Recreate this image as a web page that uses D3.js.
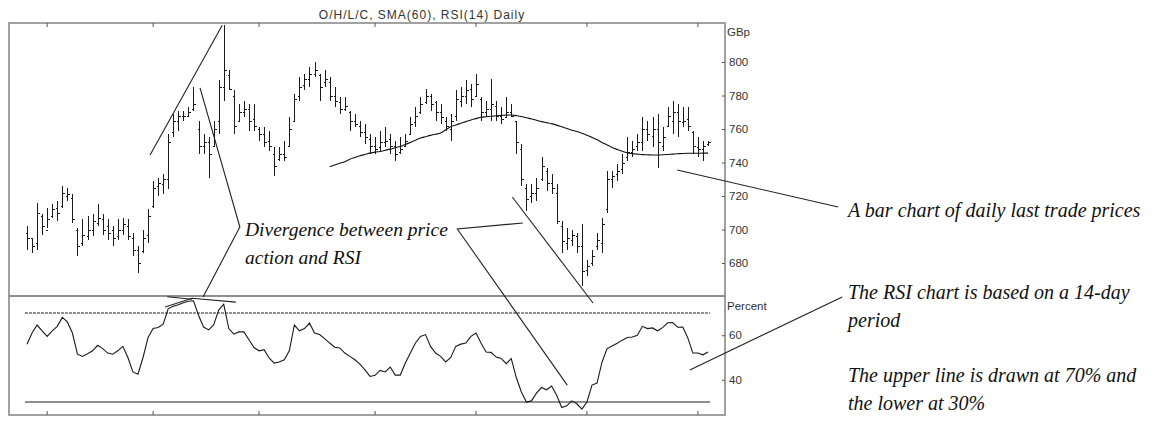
<!DOCTYPE html>
<html>
<head>
<meta charset="utf-8">
<title>O/H/L/C, SMA(60), RSI(14) Daily</title>
<script src="https://d3js.org/d3.v7.min.js"></script>
<style>
  body { margin: 0; background: #fff; }
  .frame { fill: none; stroke: #8a8a8a; stroke-width: 1.6; }
  .bar { stroke: #1a1a1a; stroke-width: 1; shape-rendering: crispEdges; }
  .ax text { font-family: "Liberation Sans", Arial, sans-serif; font-size: 11.5px; fill: #333; }
  .note { font-family: "Liberation Serif", "Times New Roman", serif; font-style: italic; font-size: 19.5px; fill: #111; }
  .note.side { font-size: 20px; }
  .callout { fill: none; stroke: #222; stroke-width: 1.1; }
</style>
</head>
<body>
<svg width="1170" height="421"></svg>
<script>
// daily bars (GBp)
var opens = [698,695,692,708,700,708,713,714,720,719, 700,692,696,700,704,706,702,700,696,700,
  702,695,688,687,697,714,726,727,730,758, 765,768,768,772,760,750,752,750,765,785,
  792,780,765,770,772,766,760,757,753,745, 742,745,750,765,780,786,790,793,792,788,
  788,780,776,772,770,765,762,758,754,750, 749,752,754,750,746,750,757,764,770,776,
  780,776,770,765,760,768,777,780,784,780, 778,770,772,774,768,767,770,765,748,725,
  720,722,730,735,728,722,702,692,694,696, 690,676,680,690,692,712,730,733,736,743,
  746,750,752,760,756,760,750,762,765,770, 764,766,758,749,748,751];
var highs = [702,695,716,709,713,715,717,726,725,721, 701,706,708,709,715,709,706,702,706,707,
  706,698,690,700,712,729,731,733,757,769, 771,771,773,785,765,757,755,765,789,822,
  795,783,775,777,775,775,761,761,759,749, 749,753,767,781,791,793,797,800,793,795,
  791,785,779,779,771,769,765,763,757,755, 759,761,757,753,755,757,767,773,779,784,
  781,777,775,767,769,783,785,789,787,793, 779,777,790,777,773,779,775,765,751,727,
  727,731,743,737,733,727,705,701,700,698, 703,682,688,698,707,735,735,739,745,755,
  753,757,767,765,767,769,761,773,777,775, 773,773,759,755,753,753];
var lows = [688,686,688,697,701,707,705,713,717,704, 684,690,694,696,702,697,694,690,694,697,
  694,684,674,686,692,713,720,721,724,755, 759,765,767,771,745,745,731,749,757,777,
  783,757,765,767,759,759,753,749,747,732, 741,741,749,765,777,783,785,791,777,785,
  777,773,769,771,759,761,755,751,745,745, 747,749,745,741,745,749,757,761,769,775,
  771,765,763,759,753,765,773,775,773,779, 765,767,765,765,763,767,767,745,726,711,
  716,717,729,723,721,703,686,688,690,686, 666,672,678,688,686,710,725,729,733,741,
  743,747,747,753,749,737,747,761,757,755, 761,759,745,743,741,750];
var closes = [695,690,710,702,706,712,710,722,721,706, 690,697,700,705,707,700,698,695,700,703,
  696,688,680,695,708,725,728,730,752,765, 768,768,770,775,750,752,745,760,785,795,
  784,762,770,772,765,762,757,752,750,738, 745,743,760,778,785,790,793,795,785,790,
  780,777,772,774,765,763,758,755,750,748, 752,753,750,745,748,753,763,768,775,780,
  775,770,767,762,765,778,780,783,778,787, 770,772,775,768,766,770,768,752,730,718,
  722,725,738,728,725,705,693,695,697,690, 675,678,684,694,703,730,732,735,740,746,
  748,752,760,757,760,752,755,768,770,765, 765,762,750,748,750,752];

// 60-day simple moving average, first value at bar 60
var smaStart = 60;
var sma60 = [737.5,738.5,739.5,740.5,742,743,744,744.8,745.6,746.2,
  746.6,747.3,748,748.8,749.5,750.7,752,753.3,754.6,755.4,
  756.2,756.9,757.6,759.5,761.4,762.4,763.4,764.4,765.4,766.2,
  767,767.3,767.6,767.9,768.1,768.3,768.4,768,767.5,766.7,
  766,765.2,764.4,763.8,763.2,762.3,761.3,760.3,759.3,758.5,
  757.5,756.3,755,753.6,752,750.5,749,747.8,746.7,745.8,
  745.3,745,744.7,744.6,744.5,744.5,744.6,744.8,745,745.2,
  745.4,745.5,745.5,745.5,745.6,745.6];

// RSI(14), one value per bar
var rsi14 = [56,61,64.6,62,59.5,62,64,68,66,61, 51.5,50.5,51.7,53,55.5,54,52,51.5,53,55,
  50,43.5,42.5,50,59,63,63.5,65,72,73, 73.7,74.6,75.3,75.5,69,63.7,62.4,64.6,71.3,74,
  63,60.5,61.5,61.5,58,54.5,53,53.5,49.8,47.5, 48,49,53,64.6,62,63,65.5,61,60.3,58.5,
  56.5,54.6,54.3,52,50.5,49,47,44.4,41.5,42, 44.2,43.5,45.7,42.1,42.1,47.5,52,56.5,59.5,60.3,
  55,52,50.5,48,50,55,56,56.5,59.5,61, 56.5,52.5,52.3,50.2,49.6,47.2,49.5,41,34.5,30,
  30.5,34,36.5,35.5,37.2,33,27.5,28.3,30.5,29.2, 26.8,30,37.6,38.5,48,54,55.2,56.4,57.8,59,
  59.2,60,64,63,63.3,62,63.4,65.6,65.7,63.6, 63.7,58.8,52,52,51.2,52.5];

var priceTicks = [680, 700, 720, 740, 760, 780, 800];
var rsiTicks = [40, 60];
var rsiLevels = [70, 30];
var monthTicks = [4, 25, 46, 69, 89, 111, 133];

var title = "O/H/L/C, SMA(60), RSI(14) Daily";

// layout
var L = 9, R = 725, T = 23, MID = 296, B = 415;

var svg = d3.select("svg");

var x = d3.scaleLinear().domain([0, 135]).range([27, 708]);
var yP = d3.scaleLinear().domain([680, 800]).range([263, 62]);
var yR = d3.scaleLinear().domain([30, 70]).range([402, 313]);

// title
svg.append("text")
  .attr("x", 422).attr("y", 19)
  .attr("text-anchor", "middle")
  .style("font-family", "'Liberation Sans', Arial, sans-serif")
  .style("font-size", "12px")
  .style("letter-spacing", "1px")
  .style("fill", "#333")
  .text(title);

// panel frames
svg.append("rect").attr("class", "frame").attr("x", L).attr("y", T).attr("width", R - L).attr("height", MID - T);
svg.append("rect").attr("class", "frame").attr("x", L).attr("y", MID).attr("width", R - L).attr("height", B - MID);

// month ticks (inward, top and bottom)
var tk = svg.append("g").attr("stroke", "#555");
monthTicks.forEach(function(m) {
  tk.append("line").attr("x1", x(m)).attr("x2", x(m)).attr("y1", T).attr("y2", T + 4);
  tk.append("line").attr("x1", x(m)).attr("x2", x(m)).attr("y1", B).attr("y2", B - 4);
});

// right axes
svg.append("g").attr("class", "ax").attr("transform", "translate(" + R + ",0)")
  .call(d3.axisRight(yP).tickValues(priceTicks).tickSize(-3).tickPadding(4));
svg.append("g").attr("class", "ax").attr("transform", "translate(" + R + ",0)")
  .call(d3.axisRight(yR).tickValues(rsiTicks).tickSize(-3).tickPadding(4));
svg.selectAll(".ax .domain").remove();
svg.selectAll(".ax line").attr("stroke", "#555");

svg.append("g").attr("class", "ax").append("text")
  .attr("x", R + 2).attr("y", yP(818)).attr("dy", "0.32em").text("GBp");
svg.append("g").attr("class", "ax").append("text")
  .attr("x", R + 2).attr("y", yR(73)).attr("dy", "0.32em").text("Percent");

// OHLC bars
var bars = svg.append("g");
closes.forEach(function(c, i) {
  var cx = Math.round(x(i)) + 0.5;
  bars.append("line").attr("class", "bar").attr("x1", cx).attr("x2", cx).attr("y1", yP(highs[i])).attr("y2", yP(lows[i]));
  bars.append("line").attr("class", "bar").attr("x1", cx - 2).attr("x2", cx).attr("y1", Math.round(yP(opens[i])) + 0.5).attr("y2", Math.round(yP(opens[i])) + 0.5);
  bars.append("line").attr("class", "bar").attr("x1", cx).attr("x2", cx + 2).attr("y1", Math.round(yP(c)) + 0.5).attr("y2", Math.round(yP(c)) + 0.5);
});

// SMA line
svg.append("path")
  .datum(sma60)
  .attr("fill", "none").attr("stroke", "#111").attr("stroke-width", 1.1)
  .attr("d", d3.line().x(function(d, i) { return x(i + smaStart); }).y(function(d) { return yP(d); }).curve(d3.curveMonotoneX));

// RSI reference levels
svg.append("line").attr("x1", x(-0.4)).attr("x2", x(135.4)).attr("y1", yR(rsiLevels[0])).attr("y2", yR(rsiLevels[0]))
  .attr("stroke", "#222").attr("stroke-width", 1).attr("stroke-dasharray", "3,1");
svg.append("line").attr("x1", x(-0.4)).attr("x2", x(135.4)).attr("y1", yR(rsiLevels[1])).attr("y2", yR(rsiLevels[1]))
  .attr("stroke", "#222").attr("stroke-width", 1.2);

// RSI line
svg.append("path")
  .datum(rsi14)
  .attr("fill", "none").attr("stroke", "#1a1a1a").attr("stroke-width", 1.1)
  .attr("d", d3.line().x(function(d, i) { return x(i); }).y(function(d) { return yR(d); }));

// hand-drawn annotation lines, points are [bar, value, panel]
var notes = [
  [[24.4, 744.5, "p"], [38.7, 822, "p"]],
  [[34.3, 784.5, "p"], [42.2, 701.5, "p"], [34.9, 77.2, "r"]],
  [[27.4, 72.7, "r"], [32.7, 76.6, "r"], [41.4, 74.9, "r"]],
  [[27.8, 77.3, "r"], [32.7, 76.2, "r"]],
  [[98.3, 703.9, "p"], [85.3, 700.3, "p"], [107.1, 37.6, "r"]],
  [[96.2, 719.4, "p"], [112.2, 74.5, "r"]],
  [[128.9, 735.5, "p"], [160.8, 713.4, "p"]],
  [[131.4, 44.4, "r"], [161.6, 77.2, "r"]]
];
var noteLine = d3.line()
  .x(function(d) { return x(d[0]); })
  .y(function(d) { return d[2] == "p" ? yP(d[1]) : yR(d[1]); });
notes.forEach(function(n) {
  svg.append("path").attr("class", "callout").attr("d", noteLine(n));
});

// annotation text
var texts = [
  [245, 236, "Divergence between price", ""],
  [245, 264, "action and RSI", ""],
  [848, 217, "A bar chart of daily last trade prices", "side"],
  [848, 299, "The RSI chart is based on a 14-day", "side"],
  [848, 327, "period", "side"],
  [848, 382, "The upper line is drawn at 70% and", "side"],
  [848, 410, "the lower at 30%", "side"]
];
texts.forEach(function(t) {
  svg.append("text").attr("class", "note " + t[3]).attr("x", t[0]).attr("y", t[1]).text(t[2]);
});
</script>
</body>
</html>
